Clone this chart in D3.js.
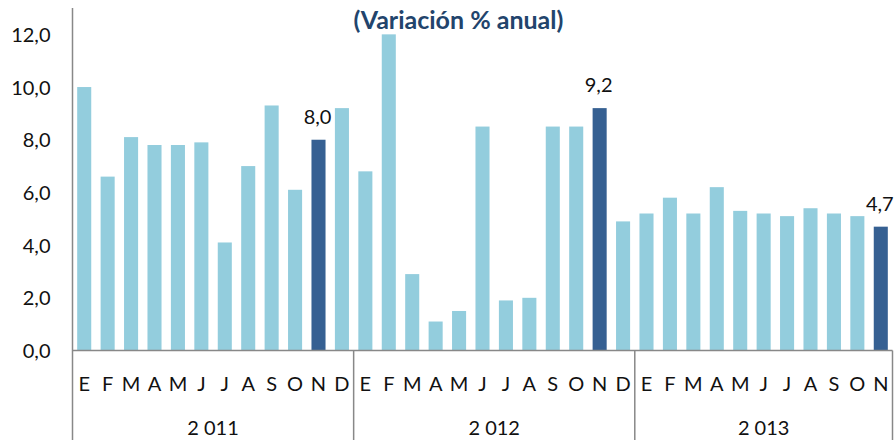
<!DOCTYPE html>
<html><head><meta charset="utf-8">
<script src="https://cdn.jsdelivr.net/npm/d3@7"></script>
<style>body{margin:0;background:#fff}svg{display:block}</style>
</head><body>
<div id="chart"></div>
<script>
const years = ["2 011", "2 012", "2 013"];
const months = ["E","F","M","A","M","J","J","A","S","O","N","D"];
const values2011 = [10.0, 6.6, 8.1, 7.8, 7.8, 7.9, 4.1, 7.0, 9.3, 6.1, 8.0, 9.2];
const values2012 = [6.8, 12.0, 2.9, 1.1, 1.5, 8.5, 1.9, 2.0, 8.5, 8.5, 9.2, 4.9];
const values2013 = [5.2, 5.8, 5.2, 6.2, 5.3, 5.2, 5.1, 5.4, 5.2, 5.1, 4.7];
const highlighted = ["2 011-10", "2 012-10", "2 013-10"];
const yTicks = [0, 2, 4, 6, 8, 10, 12];
const title = "(Variación % anual)";

const W = 895, H = 440;
const m = {left: 72.5, right: 2.5, top: 8, baseline: 350.5};
const series = [values2011, values2012, values2013];
const data = [];
series.forEach((vals, yi) => vals.forEach((v, mi) => data.push({
  key: years[yi] + "-" + mi, year: years[yi], month: months[mi], value: v
})));

const svg = d3.select("#chart").append("svg").attr("width", W).attr("height", H);
const font = "Lato, 'Open Sans', sans-serif";
const fmt = v => d3.format(".1f")(v).replace(".", ",");

const x = d3.scaleBand().domain(data.map(d => d.key)).range([m.left, W - m.right]).paddingInner(0.4).paddingOuter(0.2);
const y = d3.scaleLinear().domain([0, 13]).range([m.baseline, m.top]);

// bars
svg.selectAll("rect.bar").data(data).enter().append("rect")
  .attr("x", d => x(d.key)).attr("width", x.bandwidth())
  .attr("y", d => y(d.value)).attr("height", d => y(0) - y(d.value))
  .attr("fill", d => highlighted.includes(d.key) ? "#366092" : "#93CDDD");

// value labels for highlighted
svg.selectAll("text.vl").data(data.filter(d => highlighted.includes(d.key))).enter().append("text")
  .attr("x", d => x(d.key) + x.bandwidth() / 2 - 1)
  .attr("y", d => y(d.value) - 23)
  .attr("dy", "0.35em")
  .attr("text-anchor", "middle")
  .attr("font-family", font).attr("font-size", 20).attr("fill", "#111")
  .text(d => fmt(d.value));

// y axis
const yAxis = d3.axisLeft(y).tickValues(yTicks).tickSize(0).tickPadding(22).tickFormat(fmt);
const gy = svg.append("g").attr("transform", `translate(${m.left},0)`).call(yAxis);
gy.select(".domain").remove();
gy.selectAll("text").attr("font-family", font).attr("font-size", 20).attr("fill", "#111").attr("dy", "0.35em");

svg.append("line").attr("x1", m.left).attr("x2", m.left).attr("y1", m.top).attr("y2", H)
  .attr("stroke", "#888").attr("stroke-width", 1.5);

// baseline
svg.append("line").attr("x1", m.left).attr("x2", W - m.right).attr("y1", y(0)).attr("y2", y(0))
  .attr("stroke", "#888").attr("stroke-width", 1.5);

// x axis month labels
const xAxis = d3.axisBottom(x).tickSize(0).tickPadding(0).tickFormat(k => data.find(d => d.key === k).month);
const gx = svg.append("g").attr("transform", `translate(0,${y(0)})`).call(xAxis);
gx.select(".domain").remove();
gx.selectAll("text").attr("font-family", font).attr("font-size", 20).attr("fill", "#111")
  .attr("y", 33).attr("dy", "0.35em");

// year separators & labels
const unit = x.step();
const yearBounds = years.map(yr => {
  const i0 = data.findIndex(d => d.year === yr);
  const n = data.filter(d => d.year === yr).length;
  return {year: yr, start: m.left + i0 * unit, end: m.left + (i0 + n) * unit};
});
svg.selectAll("line.sep").data(yearBounds).enter().append("line")
  .attr("x1", d => d.end).attr("x2", d => d.end).attr("y1", y(0)).attr("y2", H)
  .attr("stroke", "#888").attr("stroke-width", 1.5);
svg.selectAll("text.yr").data(yearBounds).enter().append("text")
  .attr("x", d => (d.start + d.end) / 2).attr("y", 428).attr("dy", "0.35em")
  .attr("text-anchor", "middle").attr("font-family", font).attr("font-size", 20).attr("fill", "#111")
  .text(d => d.year);

// title
svg.append("text").attr("x", 458.5).attr("y", 20).attr("dy", "0.35em").attr("text-anchor", "middle")
  .attr("font-family", font).attr("font-weight", "bold").attr("font-size", 25).attr("fill", "#22446C")
  .text(title);
</script>
</body></html>
